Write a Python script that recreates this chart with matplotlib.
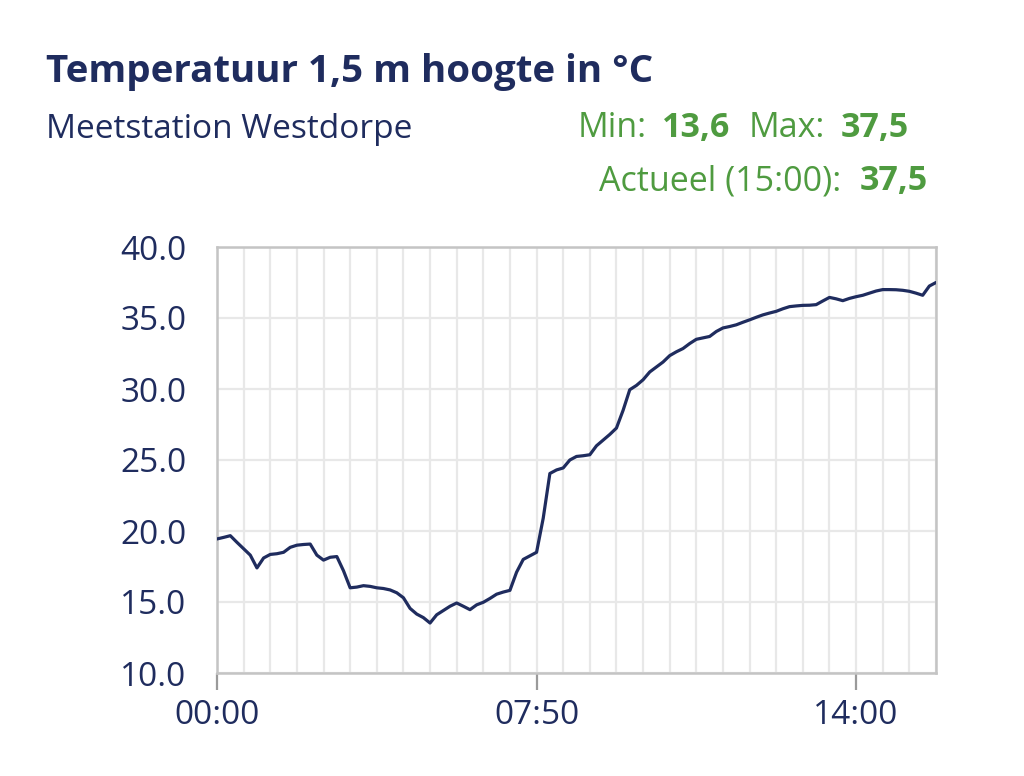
import matplotlib
matplotlib.use("Agg")
import matplotlib.pyplot as plt
import numpy as np

# ---- data ----
temperature = [
    19.44, 19.55, 19.67, 19.2, 18.75, 18.3, 17.4, 18.1, 18.35, 18.4,
    18.5, 18.85, 19.0, 19.05, 19.08, 18.3, 17.95, 18.15, 18.2, 17.2,
    16.0, 16.05, 16.15, 16.1, 16.0, 15.95, 15.85, 15.65, 15.3, 14.55,
    14.15, 13.9, 13.52, 14.1, 14.4, 14.7, 14.93, 14.7, 14.46, 14.8,
    14.98, 15.25, 15.55, 15.7, 15.82, 17.1, 18.0, 18.25, 18.5, 20.9,
    24.05, 24.3, 24.44, 25.0, 25.25, 25.3, 25.37, 26.0, 26.4, 26.8,
    27.25, 28.5, 29.95, 30.25, 30.65, 31.2, 31.55, 31.9, 32.35, 32.62,
    32.85, 33.2, 33.5, 33.6, 33.7, 34.05, 34.3, 34.4, 34.52, 34.7,
    34.87, 35.05, 35.22, 35.35, 35.47, 35.65, 35.8, 35.85, 35.89, 35.9,
    35.94, 36.2, 36.45, 36.35, 36.22, 36.38, 36.5, 36.6, 36.75, 36.9,
    37.0, 37.0, 36.99, 36.95, 36.88, 36.75, 36.6, 37.25, 37.5,
]
tick_positions = [0, 48, 96]
tick_labels = ["00:00", "07:50", "14:00"]
y_ticks = [10, 15, 20, 25, 30, 35, 40]
title = "Temperatuur 1,5 m hoogte in °C"
subtitle = "Meetstation Westdorpe"
min_val, max_val, cur_val, cur_time = "13,6", "37,5", "37,5", "15:00"

NAVY = "#1f2c5e"
GREEN = "#4f9b40"
GRID = "#e8e8e8"
FRAME = "#c4c4c4"
FONT = ["Open Sans", "DejaVu Sans"]

plt.rcParams["font.family"] = FONT

fig = plt.figure(figsize=(10.24, 7.76), dpi=100)
W, H = 1024, 776
ax = fig.add_axes([217 / W, 1 - 673 / H, (936 - 217) / W, (673 - 247) / H])

x = np.arange(len(temperature))
ax.plot(x, temperature, color=NAVY, lw=2.3, solid_joinstyle="round",
        solid_capstyle="round", zorder=3)

ax.set_xlim(0, len(temperature) - 1)
ax.set_ylim(10, 40)
ax.set_xticks(tick_positions)
ax.set_xticklabels(tick_labels)
ax.set_xticks(np.arange(0, len(temperature), 4), minor=True)
ax.set_yticks(y_ticks)
ax.set_yticklabels([f"{v:.1f}" for v in y_ticks])

ax.grid(True, which="both", axis="x", color=GRID, lw=1.6, zorder=0)
ax.grid(True, which="major", axis="y", color=GRID, lw=1.6, zorder=0)
ax.set_axisbelow(True)

for s in ax.spines.values():
    s.set_color(FRAME)
    s.set_linewidth(1.8)

LBL = 24
ax.tick_params(axis="x", which="major", length=12, width=1.6, color="#9a9a9a",
               labelsize=LBL, labelcolor=NAVY, pad=7)
ax.tick_params(axis="x", which="minor", length=0)
ax.tick_params(axis="y", length=0, labelsize=LBL, labelcolor=NAVY, pad=22)

# ---- header texts ----
fig.text(46 / W, 1 - 82 / H, title, fontsize=27.7, fontweight="bold",
         color=NAVY, ha="left", va="baseline")
fig.text(46 / W, 1 - 138 / H, subtitle, fontsize=24, color=NAVY,
         ha="left", va="baseline")

HDR = 24.5


def chain_text(parts, x0, y0):
    prev = None
    for txt, bold, gap in parts:
        weight = "bold" if bold else "normal"
        if prev is None:
            prev = fig.text(x0 / W, 1 - y0 / H, txt, fontsize=HDR, color=GREEN,
                            fontweight=weight, ha="left", va="baseline")
        else:
            prev = ax.annotate(txt, xy=(1, 0), xycoords=prev,
                               xytext=(gap, 0), textcoords="offset points",
                               fontsize=HDR, color=GREEN, fontweight=weight,
                               ha="left", va="bottom", annotation_clip=False)
    return prev


chain_text([("Min:", False, 0), (min_val, True, 11), ("Max:", False, 13),
            (max_val, True, 11)], 578, 137)
chain_text([(f"Actueel ({cur_time}):", False, 0), (cur_val, True, 13)], 599, 190)

fig.savefig("out.png", dpi=100, facecolor="white")
